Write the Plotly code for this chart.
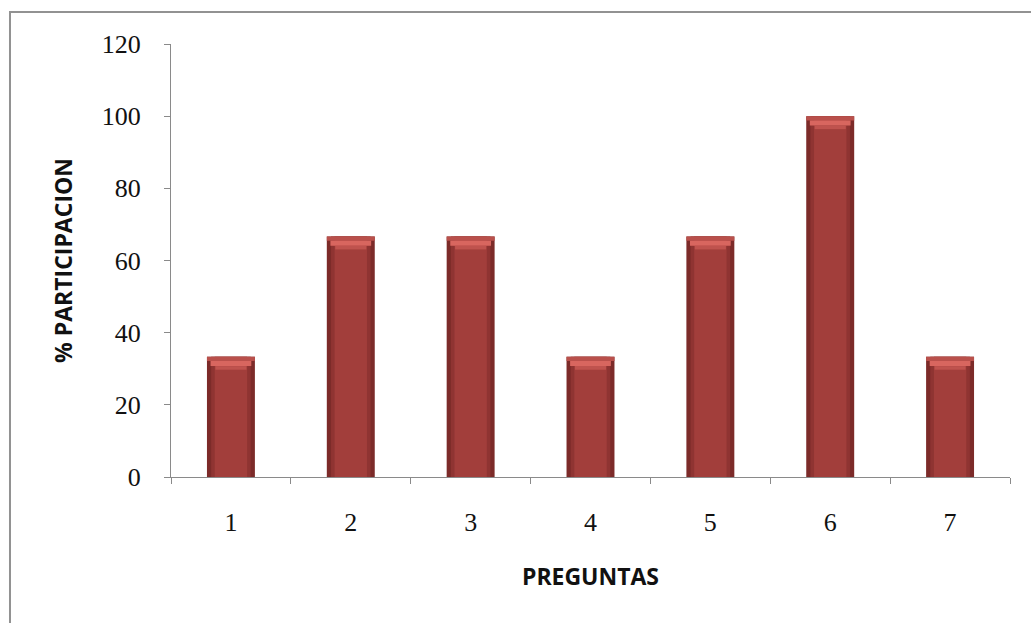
import plotly.graph_objects as go

# Survey participation per question
preguntas = ["1", "2", "3", "4", "5", "6", "7"]
participacion = [33.33, 66.67, 66.67, 33.33, 66.67, 100.0, 33.33]
y_ticks = [0, 20, 40, 60, 80, 100, 120]

fig = go.Figure()

# Bars are built in layers to give a bevelled look:
# dark outer body, lighter inner face, and a highlight band at the top.
fig.add_trace(go.Bar(
    x=preguntas, y=participacion, width=0.40,
    marker=dict(color="#7c2b29", line=dict(width=0)),
    hoverinfo="skip", showlegend=False,
))
fig.add_trace(go.Bar(
    x=preguntas, y=participacion, width=0.33,
    marker=dict(color="#8f3432", line=dict(width=0)),
    hoverinfo="skip", showlegend=False,
))
fig.add_trace(go.Bar(
    x=preguntas, y=participacion, width=0.27,
    marker=dict(color="#a23e3b", line=dict(width=0)),
    showlegend=False,
))
fig.add_trace(go.Bar(
    x=preguntas, y=[1.2] * len(participacion),
    base=[v - 1.2 for v in participacion], width=0.40,
    marker=dict(color="#b9504b", line=dict(width=0)),
    hoverinfo="skip", showlegend=False,
))
fig.add_trace(go.Bar(
    x=preguntas, y=[1.4] * len(participacion),
    base=[v - 2.6 for v in participacion], width=0.34,
    marker=dict(color="#d8665f", line=dict(width=0)),
    hoverinfo="skip", showlegend=False,
))
fig.add_trace(go.Bar(
    x=preguntas, y=[1.0] * len(participacion),
    base=[v - 3.6 for v in participacion], width=0.26,
    marker=dict(color="#bf534e", line=dict(width=0)),
    hoverinfo="skip", showlegend=False,
))

fig.update_layout(
    width=1031, height=623,
    margin=dict(l=171, r=21, t=44, b=146),
    paper_bgcolor="white", plot_bgcolor="white",
    barmode="overlay",
    showlegend=False,
    xaxis=dict(
        type="category",
        tickson="boundaries",
        ticks="outside", ticklen=6, tickcolor="#8a8a8a", tickwidth=1,
        showline=True, linecolor="#8a8a8a", linewidth=1,
        showgrid=False, zeroline=False,
        tickfont=dict(family="Liberation Serif", size=26, color="#111111"),
        ticklabelstandoff=22,
        title=dict(text="PREGUNTAS", standoff=32,
                   font=dict(family="Open Sans", size=23, color="#111111", weight="bold")),
    ),
    yaxis=dict(
        range=[0, 120],
        tickvals=y_ticks,
        ticks="outside", ticklen=6, tickcolor="#8a8a8a", tickwidth=1,
        showline=True, linecolor="#8a8a8a", linewidth=1,
        showgrid=False, zeroline=False,
        tickfont=dict(family="Liberation Serif", size=26, color="#111111"),
        ticklabelstandoff=18,
        title=dict(text="% PARTICIPACION", standoff=22,
                   font=dict(family="Open Sans", size=23, color="#111111", weight="bold")),
    ),
    shapes=[dict(
        type="rect", xref="paper", yref="paper",
        x0=-0.1919, x1=1.2, y0=-0.5, y1=1.0739,
        line=dict(color="#929292", width=2), fillcolor="rgba(0,0,0,0)",
        layer="below",
    )],
)

fig.write_html("out.html")
